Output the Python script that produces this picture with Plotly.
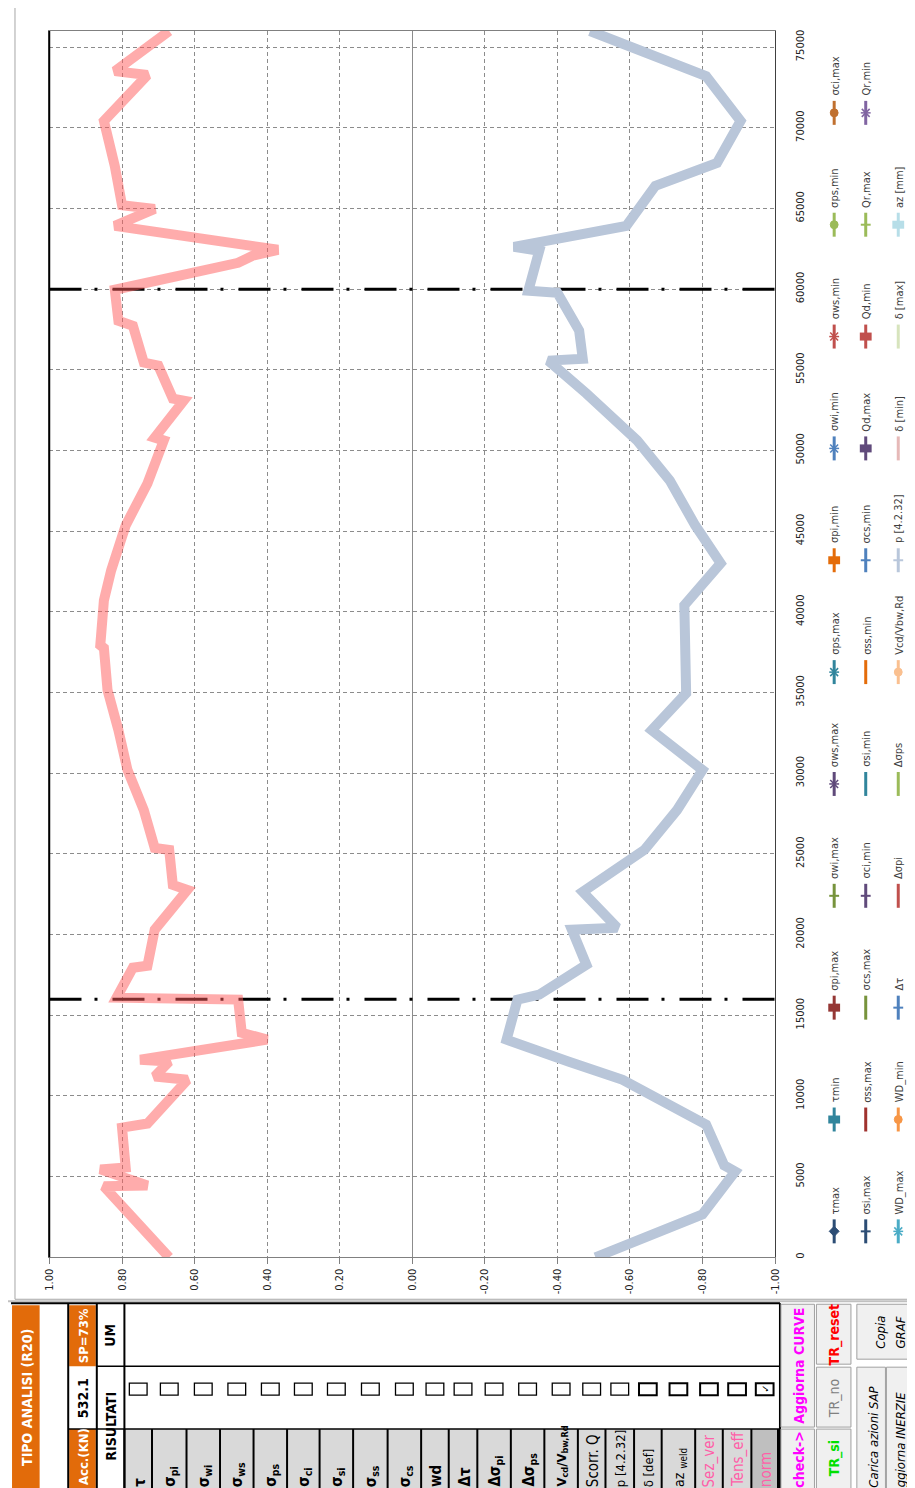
import plotly.graph_objects as go

# ---------------- data ----------------
dist_max = [0, 4400, 4450, 5450, 5570, 8040, 8290, 11000, 11200, 12130, 12250, 13490, 13920,
            15970, 16090, 17950, 18070, 20300, 22770, 23080, 25250, 25370, 27720, 30200, 32670,
            35150, 37750, 37930, 40720, 42570, 45360, 47960, 50620, 50800, 53090, 53220, 55260,
            55450, 57730, 58040, 59960, 61630, 62070, 62440, 63920, 64970, 65200, 67630, 70420,
            73270, 73510, 76000]
ratio_max = [0.67, 0.85, 0.73, 0.86, 0.79, 0.80, 0.73, 0.62, 0.71, 0.67, 0.75, 0.40, 0.47,
             0.48, 0.815, 0.77, 0.73, 0.71, 0.62, 0.66, 0.67, 0.71, 0.74, 0.785, 0.81,
             0.84, 0.85, 0.86, 0.85, 0.83, 0.79, 0.73, 0.685, 0.71, 0.63, 0.66, 0.70,
             0.74, 0.77, 0.81, 0.82, 0.48, 0.44, 0.37, 0.82, 0.71, 0.80, 0.82, 0.85,
             0.73, 0.82, 0.67]

dist_min = [0, 2660, 5320, 5690, 8230, 11000, 12130, 13490, 15970, 16280, 18130, 20300, 20420,
            22650, 25250, 27720, 30200, 32670, 34960, 40410, 43010, 45360, 48140, 50620, 53530,
            55570, 55690, 57430, 59780, 59900, 62380, 62620, 63920, 66400, 67820, 70420, 73200, 76000]
ratio_min = [-0.505, -0.80, -0.89, -0.86, -0.81, -0.58, -0.43, -0.26, -0.29, -0.35, -0.48, -0.44, -0.565,
             -0.47, -0.64, -0.73, -0.80, -0.66, -0.755, -0.75, -0.85, -0.78, -0.71, -0.62, -0.48,
             -0.375, -0.47, -0.46, -0.40, -0.32, -0.35, -0.28, -0.59, -0.67, -0.84, -0.905, -0.81, -0.49]

sezioni_verifica = [16000, 60000]

value_ticks = [1.0, 0.8, 0.6, 0.4, 0.2, 0.0, -0.2, -0.4, -0.6, -0.8, -1.0]
dist_ticks = [0, 5000, 10000, 15000, 20000, 25000, 30000, 35000, 40000, 45000, 50000,
              55000, 60000, 65000, 70000, 75000]

legend_cols = [
    [("τmax", "#2C4D75", "diamond"), ("τmin", "#31859C", "plus"), ("σpi,max", "#953735", "plus"),
     ("σwi,max", "#77933C", "dash"), ("σws,max", "#5F497A", "asterisk"), ("σps,max", "#31859C", "asterisk"),
     ("σpi,min", "#E46C0A", "plus"), ("σwi,min", "#4F81BD", "asterisk"), ("σws,min", "#C0504D", "asterisk"),
     ("σps,min", "#9BBB59", "circle"), ("σci,max", "#C0702F", "circle")],
    [("σsi,max", "#2C4D75", "dash"), ("σss,max", "#A0322F", "none"), ("σcs,max", "#77933C", "none"),
     ("σci,min", "#604A7B", "dash"), ("σsi,min", "#31859C", "none"), ("σss,min", "#E46C0A", "none"),
     ("σcs,min", "#4F81BD", "dash"), ("Qd,max", "#604A7B", "plus"), ("Qd,min", "#C0504D", "plus"),
     ("Qr,max", "#9BBB59", "dash"), ("Qr,min", "#8064A2", "asterisk")],
    [("WD_max", "#4BACC6", "asterisk"), ("WD_min", "#F79646", "circle"), ("Δτ", "#4F81BD", "dash"),
     ("Δσpi", "#C0504D", "none"), ("Δσps", "#9BBB59", "none"), ("Vcd/Vbw,Rd", "#FAC090", "circle"),
     ("p [4.2.32]", "#B9C7DB", "dash"), ("δ [min]", "#E6B9B8", "none"), ("δ [max]", "#D7E4BD", "none"),
     ("az [mm]", "#B7DEE8", "plus")],
]

header_labels = ["τ", "σ<sub>pi</sub>", "σ<sub>wi</sub>", "σ<sub>ws</sub>", "σ<sub>ps</sub>", "σ<sub>ci</sub>",
                 "σ<sub>si</sub>", "σ<sub>ss</sub>", "σ<sub>cs</sub>", "wd", "Δτ", "Δσ<sub>pi</sub>",
                 "Δσ<sub>ps</sub>", "V<sub>cd</sub>/V<sub>bw,Rd</sub>", "Scorr. Q", "p [4.2.32]", "δ [def]",
                 "az <sub>weld</sub>", "Sez_ver", "Tens_eff", "norm"]

# ---------------- geometry helpers ----------------
W, H = 915, 1488
OFF = 8  # page body margin: figure is drawn at (8, 8) in the page
PL, PR, PT, PB = 44, 780, 30, 1258   # plot area in page pixels
FONT = "Liberation Sans Narrow, DejaVu Sans Condensed, Arial Narrow, sans-serif"

shapes = []
annotations = []


def X(px):
    return (px - OFF) / W


def Y(py):
    return 1 - (py - OFF) / H


def rect(x0, y0, x1, y1, fill=None, line=None, lw=1):
    shapes.append(dict(type="rect", xref="paper", yref="paper", x0=X(x0), x1=X(x1), y0=Y(y1), y1=Y(y0),
                       fillcolor=fill if fill else "rgba(0,0,0,0)",
                       line=dict(color=line if line else "rgba(0,0,0,0)", width=lw if line else 0),
                       layer="above"))


def seg(x0, y0, x1, y1, color="#000", lw=1):
    shapes.append(dict(type="line", xref="paper", yref="paper", x0=X(x0), x1=X(x1), y0=Y(y0), y1=Y(y1),
                       line=dict(color=color, width=lw), layer="above"))


def circ(cx, cy, r, color):
    shapes.append(dict(type="circle", xref="paper", yref="paper", x0=X(cx - r), x1=X(cx + r),
                       y0=Y(cy + r), y1=Y(cy - r), fillcolor=color, line=dict(color=color, width=1),
                       layer="above"))


def txt(s, x, y, size=12, color="#000", angle=-90, xa="center", ya="middle", family=FONT):
    annotations.append(dict(text=s, x=X(x), y=Y(y), xref="paper", yref="paper", showarrow=False,
                            textangle=angle, xanchor=xa, yanchor=ya,
                            font=dict(size=size, color=color, family=family)))


# ---------------- traces ----------------
fig = go.Figure()
for s in sezioni_verifica:
    fig.add_trace(go.Scatter(x=[value_ticks[0], value_ticks[-1]], y=[s, s], mode="lines",
                             line=dict(color="black", width=3, dash="32px,13px,3px,15px"),
                             hoverinfo="skip"))
fig.add_trace(go.Scatter(x=ratio_min, y=dist_min, mode="lines",
                         line=dict(color="#B9C6D9", width=10), name="p [4.2.32]"))
fig.add_trace(go.Scatter(x=ratio_max, y=dist_max, mode="lines",
                         line=dict(color="rgba(255,90,90,0.5)", width=10), name="Vcd/Vbw,Rd"))

# ---------------- chart frame ----------------
rect(9, 3, 925, 1300, line="#A6A6A6", lw=1)
seg(PL, PT, PL, PB, "#000000", 1.5)

# ---------------- legend (rotated) ----------------
col_x = [840, 872, 905]
for ci, col in enumerate(legend_cols):
    cx = col_x[ci]
    for ri, (name, color, sym) in enumerate(col):
        cy = 1232 - 112 * ri
        seg(cx, cy - 12, cx, cy + 12, color, 3)
        if sym == "circle":
            circ(cx, cy, 4, color)
        elif sym == "diamond":
            shapes.append(dict(type="path", xref="paper", yref="paper",
                               path=f"M {X(cx)},{Y(cy-5)} L {X(cx+5)},{Y(cy)} L {X(cx)},{Y(cy+5)} L {X(cx-5)},{Y(cy)} Z",
                               fillcolor=color, line=dict(color=color, width=1), layer="above"))
        elif sym == "plus":
            rect(cx - 6, cy - 4, cx + 6, cy + 4, fill=color)
        elif sym == "dash":
            rect(cx - 5, cy - 1, cx + 5, cy + 1, fill=color)
        elif sym == "asterisk":
            seg(cx - 4, cy - 4, cx + 4, cy + 4, color, 1.5)
            seg(cx - 4, cy + 4, cx + 4, cy - 4, color, 1.5)
            seg(cx - 5, cy, cx + 5, cy, color, 1.5)
        txt(name, cx + 1, cy - 15, size=11, color="#404040", ya="bottom")

# ---------------- bottom control table ----------------
ORANGE = "#E26B0A"
rect(0, 1302, 925, 1500, fill="#FFFFFF")
seg(0, 1302, 925, 1302, "#C0C0C0", 2)
rect(6, 1306, 34, 1500, fill=ORANGE)
txt("<b>TIPO ANALISI (R20)</b>", 21, 1398, size=14, color="#FFFFFF")
rect(64, 1306, 91, 1367, fill=ORANGE)
rect(64, 1430, 91, 1500, fill=ORANGE)
txt("<b>SP=73%</b>", 78, 1337, size=13, color="#FFFFFF")
txt("<b>532.1</b>", 78, 1399, size=14, color="#000000")
txt("<b>Acc.(KN)</b>", 78, 1458, size=13, color="#FFFFFF")
txt("<b>UM</b>", 106, 1336, size=14, color="#000000")
txt("<b>RISULTATI</b>", 106, 1427, size=14, color="#000000")

cols = [120, 148, 183, 217, 251, 285, 318, 352, 387, 421, 449, 478, 512, 546, 580, 608, 637, 665,
        699, 727, 756, 783]
for i in range(len(header_labels)):
    x0, x1 = cols[i], cols[i + 1]
    fill = "#BFBFBF" if i == len(header_labels) - 1 else "#D9D9D9"
    rect(x0, 1430, x1, 1500, fill=fill)
for i, lab in enumerate(header_labels):
    cx = (cols[i] + cols[i + 1]) / 2 + 1
    if i < 14:
        s, size, color = f"<b>{lab}</b>", 15, "#000000"
        if i == 13:
            size = 13
    elif i == 14:
        s, size, color = lab, 15, "#000000"
    elif i in (15, 16):
        s, size, color = lab, 13, "#000000"
    elif i == 17:
        s, size, color = lab, 14, "#000000"
    else:
        s, size, color = lab, 15, "#FF5FA8"
    txt(s, cx, 1490, size=size, color=color, ya="bottom")
    bx = (cols[i] + cols[i + 1]) / 2
    rect(bx - 9, 1384, bx + 9, 1396, fill="#FFFFFF", line="#000000", lw=1.3 if i < 16 else 2)
txt("<b>✓</b>", (cols[-2] + cols[-1]) / 2, 1390, size=10, color="#000000", angle=-90,
    family="DejaVu Sans")
for x in cols:
    seg(x, 1430, x, 1500, "#000000", 2)
seg(63, 1304, 63, 1500, "#000000", 2)
seg(92, 1304, 92, 1500, "#000000", 2)
seg(120, 1304, 120, 1500, "#000000", 2)
seg(5, 1304, 785, 1304, "#000000", 2)
seg(92, 1367, 785, 1367, "#000000", 1.5)
seg(63, 1430, 785, 1430, "#000000", 1.5)
seg(785, 1304, 785, 1500, "#000000", 2)

# buttons
BTN = "#F0F0F0"
rect(786, 1305, 820, 1428, fill=BTN, line="#A0A0A0")
rect(786, 1430, 820, 1500, fill=BTN, line="#A0A0A0")
rect(822, 1305, 857, 1365, fill=BTN, line="#A0A0A0")
rect(822, 1368, 857, 1428, fill=BTN, line="#A0A0A0")
rect(822, 1430, 857, 1500, fill=BTN, line="#A0A0A0")
rect(863, 1305, 925, 1360, fill=BTN, line="#A0A0A0")
rect(863, 1368, 892, 1500, fill=BTN, line="#A0A0A0")
rect(893, 1368, 925, 1500, fill=BTN, line="#A0A0A0")
txt("<b>Aggiorna CURVE</b>", 804, 1367, size=14, color="#FF00FF")
txt("<b>check-></b>", 804, 1460, size=14, color="#FF00FF")
txt("<b>TR_reset</b>", 840, 1336, size=14, color="#FF0000")
txt("TR_no", 840, 1399, size=14, color="#808080")
txt("<b>TR_si</b>", 840, 1459, size=14, color="#00E000")
txt("<i>Copia</i>", 887, 1333, size=13, color="#000000")
txt("<i>GRAF</i>", 907, 1333, size=13, color="#000000")
txt("<i>Carica azioni SAP</i>", 879, 1438, size=13, color="#000000")
txt("<i>Aggiorna INERZIE</i>", 907, 1445, size=13, color="#000000")

# ---------------- layout ----------------
fig.update_layout(
    width=W, height=H, autosize=False, showlegend=False,
    margin=dict(l=0, r=0, t=0, b=0),
    paper_bgcolor="#FFFFFF", plot_bgcolor="#FFFFFF",
    font=dict(family=FONT, size=11, color="#222222"),
    shapes=shapes, annotations=annotations,
    xaxis=dict(domain=[X(PL), X(PR)], range=[1, -1], tickvals=value_ticks,
               ticktext=[f"{v:.2f}" for v in value_ticks], tickangle=-90,
               ticks="outside", ticklen=6, tickcolor="#808080",
               showline=True, linecolor="#808080", mirror=True,
               showgrid=True, gridcolor="#8C8C8C", griddash="4px,3px", gridwidth=1,
               zeroline=True, zerolinecolor="#8C8C8C", zerolinewidth=1,
               tickfont=dict(size=11, family=FONT, color="#222222")),
    yaxis=dict(domain=[Y(PB), Y(PT)], range=[0, 76000], side="right",
               tickvals=dist_ticks, ticktext=[str(v) for v in dist_ticks], tickangle=-90,
               ticks="", showline=True, linecolor="#404040", mirror=True,
               showgrid=True, gridcolor="#8C8C8C", griddash="4px,3px", gridwidth=1,
               zeroline=False, ticklabelstandoff=15,
               tickfont=dict(size=11, family=FONT, color="#222222")),
)

fig.write_html("out.html")
